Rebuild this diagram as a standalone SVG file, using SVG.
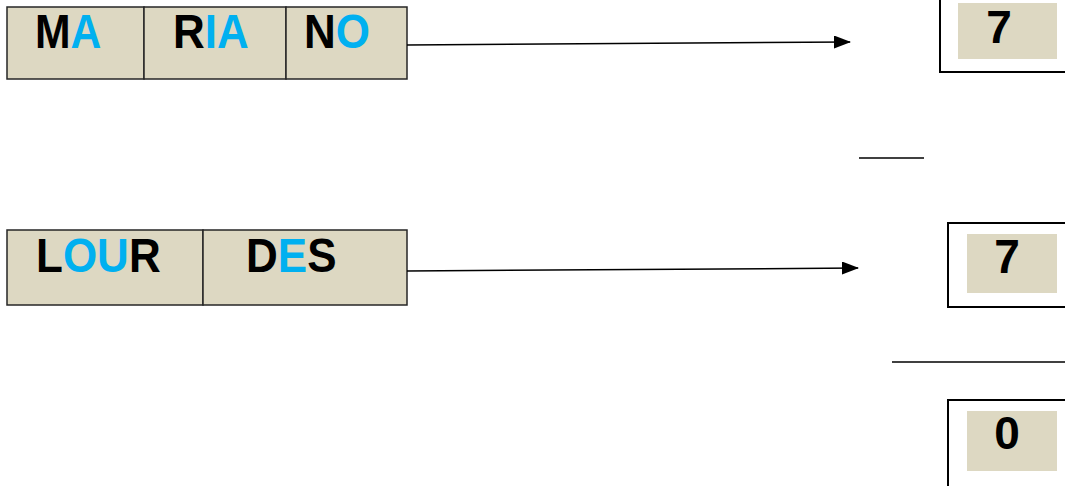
<svg xmlns="http://www.w3.org/2000/svg" width="1065" height="486" viewBox="0 0 1065 486">
<defs>
<marker id="ah" markerWidth="17" markerHeight="13" refX="16" refY="6.5" orient="auto" markerUnits="userSpaceOnUse">
<path d="M0,0 L17,6.5 L0,13 z" fill="#000"/>
</marker>
<style>
.cell{fill:#DDD8C2;stroke:#262626;stroke-width:1.5}
.outer{fill:#fff;stroke:#000;stroke-width:2}
.inner{fill:#DDD8C2}
.t{font-family:"Liberation Sans",Arial,sans-serif;font-weight:bold;font-size:44px;fill:#000}
.n{font-family:"Liberation Sans",Arial,sans-serif;font-weight:bold;font-size:46px;fill:#000;text-anchor:middle}
.b{fill:#00B0F0}
.ln{stroke:#000;stroke-width:1.5;fill:none}
</style>
</defs>
<rect width="1065" height="486" fill="#fff"/>
<g id="word1">
<rect class="cell" x="7" y="7" width="137" height="72"/>
<rect class="cell" x="144" y="7" width="142" height="72"/>
<rect class="cell" x="286" y="7" width="121" height="72"/>
<text class="t" transform="translate(35,48) scale(0.97,1.09)">M<tspan class="b">A</tspan></text>
<text class="t" transform="translate(173,48) scale(1,1.09)">R<tspan class="b">IA</tspan></text>
<text class="t" transform="translate(304,48) scale(1,1.09)">N<tspan class="b">O</tspan></text>
</g>
<g id="word2">
<rect class="cell" x="7" y="230" width="196" height="75"/>
<rect class="cell" x="203" y="230" width="204" height="75"/>
<text class="t" transform="translate(36,272) scale(1,1.1)">L<tspan class="b">OU</tspan>R</text>
<text class="t" transform="translate(246,272) scale(1,1.1)">D<tspan class="b">E</tspan>S</text>
</g>
<g id="count1">
<rect class="outer" x="940" y="-5" width="135" height="77"/>
<rect class="inner" x="958" y="3" width="99" height="56"/>
<text class="n" x="999" y="42.5">7</text>
</g>
<g id="count2">
<rect class="outer" x="948" y="223" width="127" height="84"/>
<rect class="inner" x="967" y="234" width="90" height="59"/>
<text class="n" transform="translate(1007,273) scale(1,1.06)">7</text>
</g>
<g id="count3">
<rect class="outer" x="948" y="400" width="127" height="100"/>
<rect class="inner" x="967" y="411" width="90" height="60"/>
<text class="n" x="1007" y="449">0</text>
</g>
<g id="connectors">
<line class="ln" x1="407" y1="45" x2="850" y2="42" marker-end="url(#ah)"/>
<line class="ln" x1="407" y1="271" x2="858" y2="268" marker-end="url(#ah)"/>
<line class="ln" x1="859" y1="158" x2="924" y2="158"/>
<line class="ln" x1="892" y1="362" x2="1065" y2="362"/>
</g>
</svg>
